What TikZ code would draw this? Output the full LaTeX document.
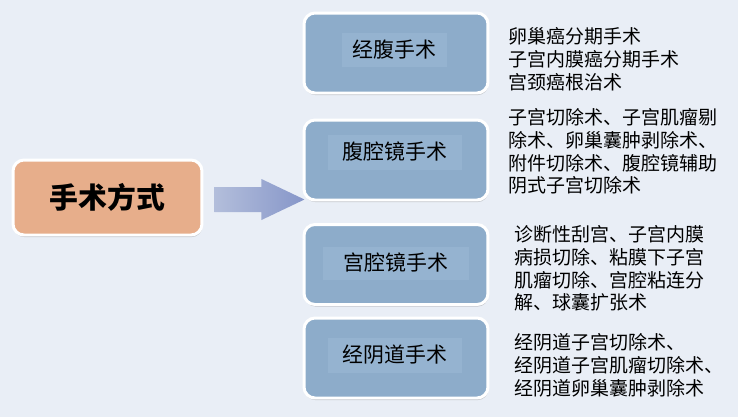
\documentclass[tikz,border=0pt]{standalone}
\usepackage{fontspec}
\newfontfamily\cjk{Noto Sans CJK SC}
\usetikzlibrary{shadows,calc}
\definecolor{bgcol}{HTML}{E9EEF6}
\definecolor{maincol}{HTML}{E7AE8B}
\definecolor{boxcol}{HTML}{8DACCA}
\definecolor{tagcol}{HTML}{95B3D0}
\definecolor{arrowlight}{HTML}{B3BEDB}
\definecolor{arrowdark}{HTML}{8696C9}
\tikzset{
  kind/.style={draw=white,line width=1.7pt,rounded corners=0.22cm,fill=boxcol,
    minimum width=3.68cm,minimum height=1.6cm,
    drop shadow={shadow xshift=0.3pt,shadow yshift=-1.2pt,opacity=0.35}},
  tag/.style={fill=tagcol,inner sep=0pt,font=\cjk\fontsize{11.9pt}{14pt}\selectfont},
  detail/.style={anchor=north west,inner sep=0pt,align=left,
    font=\cjk\fontsize{10.8pt}{13pt}\selectfont}
}
\begin{document}
\begin{tikzpicture}[x=0.02cm,y=-0.02cm]
  \fill[bgcol] (0,0) rectangle (738,417);
  % left
  \node[kind,fill=maincol,minimum width=3.78cm,minimum height=1.5cm,
    font=\cjk\bfseries\fontsize{16.4pt}{18pt}\selectfont] (main) at (107.5,197.5) {手术方式};
  % boxes
  \node[kind] (fu) at (396,53) {};
  \node[kind] (fuqiang) at (396,160) {};
  \node[kind] (gong) at (396,264.5) {};
  \node[kind] (yin) at (396,358) {};
  \node[tag,minimum width=2.1cm,minimum height=0.68cm] (futxt) at (394.5,50) {经腹手术};
  \node[tag,minimum width=2.7cm,minimum height=0.7cm] (fuqiangtxt) at (395,152) {腹腔镜手术};
  \node[tag,minimum width=2.94cm,minimum height=0.66cm] (gongtxt) at (396,263) {宫腔镜手术};
  \node[tag,minimum width=2.7cm,minimum height=0.7cm] (yintxt) at (395,355) {经阴道手术};
  % arrow
  \coordinate (ar) at ($(main.east)+(11,2)$);
  \shade[left color=arrowlight,right color=arrowdark]
    ($(ar)+(0,-12.5)$) -- ($(ar)+(47,-12.5)$) -- ($(ar)+(47,-20.5)$) -- ($(ar)+(90,0)$)
    -- ($(ar)+(47,20.5)$) -- ($(ar)+(47,12.5)$) -- ($(ar)+(0,12.5)$) -- cycle;
  % details
  \node[detail] (fulist) at (508,27) {卵巢癌分期手术\\子宫内膜癌分期手术\\宫颈癌根治术};
  \node[detail] (fuqianglist) at (508,108) {子宫切除术、子宫肌瘤剔\\除术、卵巢囊肿剥除术、\\附件切除术、腹腔镜辅助\\阴式子宫切除术};
  \node[detail] (gonglist) at (514,225) {诊断性刮宫、子宫内膜\\病损切除、粘膜下子宫\\肌瘤切除、宫腔粘连分\\解、球囊扩张术};
  \node[detail] (yinlist) at (514,333) {经阴道子宫切除术、\\经阴道子宫肌瘤切除术、\\经阴道卵巢囊肿剥除术};
\end{tikzpicture}
\end{document}
